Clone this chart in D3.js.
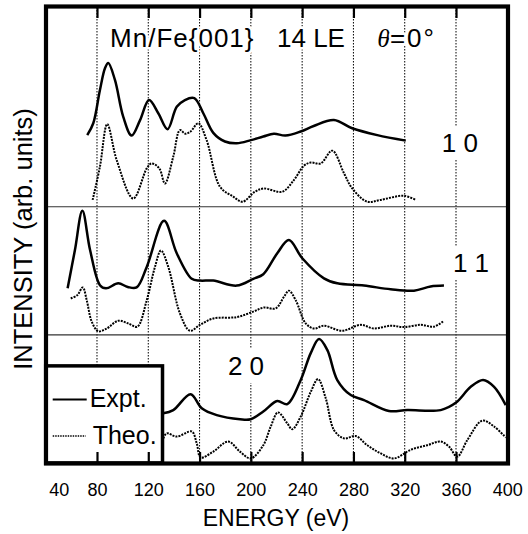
<!DOCTYPE html>
<html><head><meta charset="utf-8">
<script src="https://cdn.jsdelivr.net/npm/d3@7"></script>
<style>
html,body{margin:0;padding:0;background:#fff;}
svg text{font-family:"Liberation Sans",Arial,Helvetica,sans-serif;fill:#000;}
</style>
</head><body>
<svg id="chart" width="528" height="534"></svg>
<script>
// ---------- data (energy eV, intensity arb. units incl. panel offsets) ----------
const energyTicks = [40, 80, 120, 160, 200, 240, 280, 320, 360, 400];
const gridEnergies = [80, 120, 160, 200, 240, 280, 320, 360];

const expt10 = [[72.4,71.9],[77.1,74.5],[82.3,81.8],[86.3,86.6],[88.8,87.7],[94,84.0],[100.5,75.9],[107,71.8],[113.6,75.2],[120.6,79.6],[127.8,76.7],[135,73.2],[142.2,78.1],[148.6,79.6],[155.9,80.0],[162.9,76.7],[170.7,72.4],[179.8,70.5],[189,70.1],[200,70.8],[209.7,71.6],[218,72.2],[227,71.8],[238.9,72.7],[249,73.9],[264.8,75.2],[279,73.4],[298.6,71.9],[320.8,70.7]];
const theo10 = [[76.6,57.7],[82.3,65.0],[88,74.3],[95.4,66.4],[108.3,58.0],[118.8,64.6],[122.7,65.7],[128.6,64.6],[133,61.3],[139.5,67.2],[144.7,73.0],[149,72.2],[153,72.7],[159,74.5],[165.5,70.8],[175.9,60.6],[186.3,58.4],[193.6,57.3],[203.2,59.5],[210,60.2],[224.5,59.5],[233.7,62.1],[241.4,65.2],[246.7,65.9],[254.5,65.7],[263.5,68.5],[272.7,63.5],[279.1,60.2],[290.8,57.3],[301.3,57.7],[319.4,58.6],[328.6,57.7]];

const expt11 = [[57.1,38.3],[62.8,46.7],[68.6,55.3],[74.6,46.7],[82.3,39.0],[87,38.3],[96.6,39.4],[104,38.6],[110.9,38.5],[118.8,43.0],[132.3,53.1],[142.2,46.0],[153.9,40.4],[160.3,40.0],[170.7,40.0],[189,38.9],[201.9,40.4],[209.7,41.4],[220.6,46.0],[229.7,48.9],[240.1,44.9],[257,40.5],[267.4,39.4],[288.2,38.9],[309,38.1],[327.2,37.8],[340.2,38.7],[350.6,38.9]];
const theo11 = [[59.5,36.1],[64.6,36.8],[68.9,38.5],[72,35.7],[75.9,31.0],[81,28.9],[87.6,29.5],[96.6,31.2],[104.4,30.6],[111.4,29.9],[118.8,35.7],[125.2,43.0],[129.9,46.6],[135.6,43.0],[144.7,32.8],[152.5,29.0],[160.3,30.3],[170.7,31.7],[189,32.0],[201.9,33.2],[210.3,34.1],[219.4,33.9],[225.9,36.5],[229.7,37.8],[235,35.7],[242.8,30.6],[249.3,29.5],[257,30.1],[271.3,29.0],[285.7,30.3],[296,29.5],[309,30.1],[319.4,29.8],[332.5,30.3],[342.8,29.9],[350.6,31.2]];

const expt20 = [[131.7,10.9],[139.5,11.6],[153,15.1],[161.7,12.0],[173.4,10.5],[191.5,9.6],[199.9,9.6],[209.7,11.3],[220.6,13.6],[228.4,12.9],[238.9,18.2],[246.7,24.1],[253.2,27.2],[259.6,24.8],[267.4,18.2],[277.9,14.9],[288.2,13.8],[307.7,11.4],[322,11.6],[348,11.6],[359.8,13.2],[371.5,16.7],[381.1,18.2],[389.7,16.7],[398.8,12.7]];
const theo20 = [[131.7,5.4],[134.4,6.5],[142.2,5.8],[153.9,6.9],[157.8,4.3],[160.9,1.2],[170.7,2.5],[182.4,4.7],[191.5,2.5],[199.9,1.0],[209.7,3.9],[215.5,8.0],[221.2,11.1],[228.4,8.7],[232.3,7.4],[238.9,10.2],[246.7,15.6],[252.4,18.4],[258.4,14.2],[264.9,7.2],[272.7,5.4],[281.8,5.9],[290.8,3.9],[301.3,2.1],[311.6,1.0],[324.7,2.9],[337.6,3.9],[348,4.7],[354.5,3.6],[361,1.4],[368.8,5.0],[380.5,9.3],[389.7,8.0],[398.8,5.6]];

const panelSeparators = [56.2, 28.1];
const panelLabels = ["1 0", "1 1", "2 0"];
const panelLabelAnchors = [[363, 68.2], [371.7, 41.9], [196.2, 19.3]];
const titleParts = ["Mn/Fe{001}", "14 LE", "θ=0°"];
const titleAnchors = [[90.2, 91.2], [220.4, 91.2], [298.5, 91.2]];
const legendLabels = ["Expt.", "Theo."];
const xLabel = "ENERGY (eV)";
const yLabel = "INTENSITY (arb. units)";

// ---------- layout ----------
const svg = d3.select("#chart");
const L = 45.7, R = 507.3, T = 7, B = 463;
const x = d3.scaleLinear().domain([40, 400]).range([L, R]);
const y = d3.scaleLinear().domain([0, 100]).range([B, T]);

// grid lines (dotted)
svg.append("g").selectAll("line").data(gridEnergies).join("line")
  .attr("x1", d => x(d)).attr("x2", d => x(d))
  .attr("y1", T).attr("y2", B)
  .attr("stroke", "#000").attr("stroke-width", 1).attr("stroke-dasharray", "1.5,1.5");

// panel separators
svg.append("g").selectAll("line").data(panelSeparators).join("line")
  .attr("x1", L).attr("x2", R).attr("y1", d => y(d)).attr("y2", d => y(d))
  .attr("stroke", "#333").attr("stroke-width", 1.2);

// curves
const line = d3.line().x(d => x(d[0])).y(d => y(d[1])).curve(d3.curveCatmullRom.alpha(0.5));
const curves = svg.append("g");
[expt10, expt11, expt20].forEach(s => curves.append("path").attr("d", line(s))
  .attr("fill", "none").attr("stroke", "#000").attr("stroke-width", 2.5).attr("stroke-linejoin", "round"));
[theo10, theo11, theo20].forEach(s => curves.append("path").attr("d", line(s))
  .attr("fill", "none").attr("stroke", "#000").attr("stroke-width", 2).attr("stroke-dasharray", "2,1.1"));

// panel labels with white background
panelLabels.forEach((t, i) => {
  const g = svg.append("g");
  const tx = g.append("text").attr("x", x(panelLabelAnchors[i][0])).attr("y", y(panelLabelAnchors[i][1]))
    .attr("text-anchor", "middle").attr("font-size", 26).text(t);
  const bb = tx.node().getBBox();
  g.insert("rect", "text").attr("x", bb.x - 2).attr("y", bb.y - 2).attr("width", bb.width + 4).attr("height", bb.height + 4).attr("fill", "#fff");
});

// title parts with white halo
titleParts.forEach((t, i) => {
  const tx = svg.append("text").attr("x", x(titleAnchors[i][0])).attr("y", y(titleAnchors[i][1]))
    .attr("font-size", 26).attr("stroke", "#fff").attr("stroke-width", 5).attr("paint-order", "stroke")
    .attr("stroke-linejoin", "round");
  if (i === 2) {
    tx.append("tspan").attr("font-family", "'Liberation Serif','Times New Roman',serif").attr("font-style", "italic").text(t[0]);
    tx.append("tspan").attr("letter-spacing", 2).text(t.slice(1));
  } else {
    tx.text(t);
  }
  if (i === 0) tx.attr("letter-spacing", 1);
});

// legend box
const legX1 = x(40), legX2 = x(131.1), legY1 = y(21.3), legY2 = B;
const leg = svg.append("g");
leg.append("rect").attr("x", legX1).attr("y", legY1).attr("width", legX2 - legX1).attr("height", legY2 - legY1)
  .attr("fill", "#fff").attr("stroke", "#000").attr("stroke-width", 3.5);
leg.append("line").attr("x1", legX1 + 7).attr("x2", legX1 + 41).attr("y1", 399.5).attr("y2", 399.5)
  .attr("stroke", "#000").attr("stroke-width", 2);
leg.append("line").attr("x1", legX1 + 7).attr("x2", legX1 + 40).attr("y1", 436).attr("y2", 436)
  .attr("stroke", "#000").attr("stroke-width", 1.6).attr("stroke-dasharray", "1.5,1");
leg.append("text").attr("x", legX1 + 44).attr("y", 407).attr("font-size", 25).text(legendLabels[0]);
leg.append("text").attr("x", legX1 + 47).attr("y", 443.5).attr("font-size", 25).text(legendLabels[1]);

// inner tick marks (top & bottom) via axes
const topAxis = d3.axisTop(x).tickValues(gridEnergies).tickSize(-11).tickFormat("");
const botAxis = d3.axisBottom(x).tickValues(gridEnergies).tickSize(-11).tickFormat("");
const gt = svg.append("g").attr("transform", `translate(0,${T})`).call(topAxis);
const gb = svg.append("g").attr("transform", `translate(0,${B})`).call(botAxis);
[gt, gb].forEach(g => { g.select(".domain").remove(); g.selectAll("line").attr("stroke", "#000").attr("stroke-width", 2.2); });

// frame
svg.append("rect").attr("x", 46).attr("y", 6.5).attr("width", 462).attr("height", 457)
  .attr("fill", "none").attr("stroke", "#000").attr("stroke-width", 4.2);

// bottom tick labels
const labAxis = d3.axisBottom(x).tickValues(energyTicks).tickSize(0).tickPadding(0).tickFormat(d3.format("d"));
const gl = svg.append("g").attr("transform", `translate(0,${B})`).call(labAxis);
gl.select(".domain").remove();
gl.selectAll("text").attr("font-size", 18).attr("font-family", "'Liberation Sans',Arial,sans-serif")
  .attr("fill", "#000").attr("dy", 0).attr("y", 32.5)
  .attr("dx", d => d === 40 ? 13 : 0);

// axis titles
svg.append("text").attr("x", 276).attr("y", 526).attr("text-anchor", "middle").attr("font-size", 23).text(xLabel);
svg.append("text").attr("transform", "translate(32,239) rotate(-90)").attr("text-anchor", "middle")
  .attr("font-size", 25.5).text(yLabel);
</script>
</body></html>
